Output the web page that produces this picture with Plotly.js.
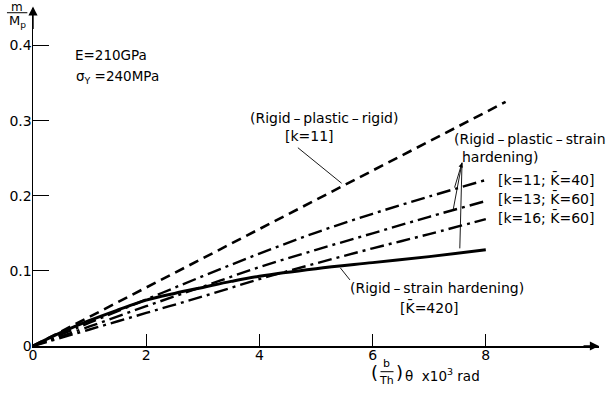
<!DOCTYPE html>
<html>
<head>
<meta charset="utf-8">
<script src="https://cdn.plot.ly/plotly-3.0.1.min.js"></script>
<style>html,body{margin:0;padding:0;background:#fff;}#chart{width:608px;height:398px;}</style>
</head>
<body>
<div id="chart"></div>
<script>
// ---- data ----
const xRigidPlasticRigid = [0, 8.35];
const yRigidPlasticRigid = [0, 0.325];

const xHardening = [0, 1, 2, 3, 4, 5, 6, 7, 8];
const yK11K40 = [0, 0.031, 0.062, 0.093, 0.123, 0.151, 0.176, 0.199, 0.221];
const yK13K60 = [0, 0.026, 0.053, 0.079, 0.105, 0.128, 0.150, 0.172, 0.193];
const yK16K60 = [0, 0.022, 0.044, 0.066, 0.089, 0.110, 0.130, 0.149, 0.169];

const xRigidStrain = [0, 0.5, 1, 1.5, 2, 2.5, 3, 3.5, 4, 5, 6, 7, 8];
const yRigidStrain = [0, 0.018, 0.034, 0.048, 0.061, 0.070, 0.078, 0.086, 0.093, 0.103, 0.111, 0.119, 0.128];

const xTickVals = [0, 2, 4, 6, 8];
const xTickText = ['0', '2', '4', '6', '8'];
const yTickVals = [0, 0.1, 0.2, 0.3, 0.4];
const yTickText = ['0', '0.1', '0.2', '0.3', '0.4'];

const FONT = 'DejaVu Sans, Verdana, sans-serif';
const D = '\u2009\u2013\u2009'; // spaced dash as in the reference

const traces = [
  {x: xRigidPlasticRigid, y: yRigidPlasticRigid, mode: 'lines',
   line: {color: '#000', width: 2.6, dash: '10px,6px'}},
  {x: xHardening, y: yK11K40, mode: 'lines',
   line: {color: '#000', width: 2.4, dash: '14px,5px,3px,5px', shape: 'spline'}},
  {x: xHardening, y: yK13K60, mode: 'lines',
   line: {color: '#000', width: 2.4, dash: '14px,5px,3px,5px', shape: 'spline'}},
  {x: xHardening, y: yK16K60, mode: 'lines',
   line: {color: '#000', width: 2.4, dash: '14px,5px,3px,5px', shape: 'spline'}},
  {x: xRigidStrain, y: yRigidStrain, mode: 'lines',
   line: {color: '#000', width: 3, shape: 'spline'}}
];

function txt(x, y, text, xanchor, size) {
  return {x: x, y: y, xref: 'x', yref: 'y', text: text, showarrow: false,
          xanchor: xanchor || 'center', yanchor: 'middle',
          font: {family: FONT, size: size || 14, color: '#000'}};
}
function ptxt(x, y, text, xanchor, size) {
  return {x: x, y: y, xref: 'paper', yref: 'paper', text: text, showarrow: false,
          xanchor: xanchor || 'center', yanchor: 'middle',
          font: {family: FONT, size: size || 14, color: '#000'}};
}
function lead(x, y, ax, ay, head) {
  return {x: x, y: y, ax: ax, ay: ay, xref: 'x', yref: 'y', axref: 'x', ayref: 'y',
          text: '', showarrow: true, arrowhead: head || 0, arrowsize: 1,
          arrowwidth: 0.9, arrowcolor: '#000', standoff: 0, startstandoff: 0};
}

const annotations = [
  txt(0.70, 0.387, 'E=210GPa', 'left', 13.5),
  txt(0.72, 0.358, 'σ<sub>Y</sub> =240MPa', 'left', 13.5),
  txt(5.14, 0.303, '(Rigid' + D + 'plastic' + D + 'rigid)', 'center'),
  txt(4.89, 0.280, '[k=11]', 'center'),
  txt(7.40, 0.275, '(Rigid' + D + 'plastic' + D + 'strain', 'left'),
  txt(7.55, 0.251, 'hardening)', 'left'),
  txt(8.18, 0.222, '[k=11; K\u0304=40]', 'left'),
  txt(8.18, 0.196, '[k=13; K\u0304=60]', 'left'),
  txt(8.18, 0.171, '[k=16; K\u0304=60]', 'left'),
  txt(5.57, 0.077, '(Rigid' + D + 'strain hardening)', 'left'),
  txt(7.00, 0.051, '[K\u0304=420]', 'center'),
  // y-axis title m / Mp
  ptxt(-0.028, 1.002, 'm', 'center', 12),
  ptxt(-0.028, 0.960, 'M<sub>p</sub>', 'center', 13),
  // x-axis title
  ptxt(0.604, -0.077, '(', 'center', 18),
  ptxt(0.625, -0.052, 'b', 'center', 11),
  ptxt(0.625, -0.101, 'Th', 'center', 11),
  ptxt(0.647, -0.077, ')', 'center', 18),
  ptxt(0.654, -0.087, 'θ  x10<sup>3</sup> rad', 'left', 13.5),
  // leaders
  lead(4.68, 0.264, 5.48, 0.215, 0),
  lead(5.43, 0.104, 5.62, 0.086, 0),
  lead(7.58, 0.244, 7.44, 0.209, 2),
  lead(7.58, 0.244, 7.42, 0.180, 0),
  lead(7.58, 0.244, 7.54, 0.128, 0),
  // axis arrowheads
  {x: 10, y: 0, ax: 9.7, ay: 0, xref: 'x', yref: 'y', axref: 'x', ayref: 'y',
   text: '', showarrow: true, arrowhead: 2, arrowsize: 1.3, arrowwidth: 1.4, arrowcolor: '#000', standoff: 0},
  {x: 0, y: 0.452, ax: 0, ay: 0.42, xref: 'x', yref: 'y', axref: 'x', ayref: 'y',
   text: '', showarrow: true, arrowhead: 2, arrowsize: 1.3, arrowwidth: 1.4, arrowcolor: '#000', standoff: 0}
];

const shapes = [
  // fraction bar of m/Mp
  {type: 'line', xref: 'paper', yref: 'paper', x0: -0.046, x1: -0.010, y0: 0.986, y1: 0.986,
   line: {color: '#000', width: 1}},
  // fraction bar of b/Th
  {type: 'line', xref: 'paper', yref: 'paper', x0: 0.614, x1: 0.637, y0: -0.076, y1: -0.076,
   line: {color: '#000', width: 1}}
];

const layout = {
  width: 608, height: 398,
  margin: {l: 33, r: 9, t: 8, b: 52},
  paper_bgcolor: '#fff', plot_bgcolor: '#fff',
  showlegend: false,
  font: {family: FONT, size: 14, color: '#000'},
  xaxis: {range: [0, 10], tickvals: xTickVals, ticktext: xTickText,
          ticks: 'inside', ticklen: 12, tickwidth: 1, tickcolor: '#000',
          ticklabelstandoff: -4,
          showgrid: false, zeroline: false, showline: true, linecolor: '#000', linewidth: 1.5,
          tickfont: {family: FONT, size: 14, color: '#000'}, fixedrange: true},
  yaxis: {range: [0, 0.45], tickvals: yTickVals, ticktext: yTickText,
          ticks: 'inside', ticklen: 16, tickwidth: 1, tickcolor: '#000',
          ticklabelstandoff: -3,
          showgrid: false, zeroline: false, showline: true, linecolor: '#000', linewidth: 1.5,
          tickfont: {family: FONT, size: 14, color: '#000'}, fixedrange: true},
  annotations: annotations,
  shapes: shapes
};

Plotly.newPlot('chart', traces, layout, {displayModeBar: false, staticPlot: true});
</script>
</body>
</html>
